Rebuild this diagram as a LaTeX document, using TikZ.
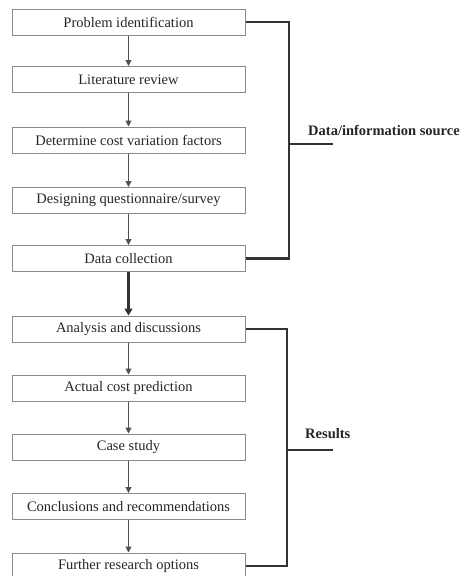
\documentclass[tikz,border=0pt]{standalone}
\usepackage{fontspec}
\setmainfont{Liberation Serif}
\usetikzlibrary{arrows.meta}
\definecolor{boxgray}{HTML}{8A8A8A}
\definecolor{txt}{HTML}{262626}
\definecolor{brk}{HTML}{333333}
\definecolor{arr}{HTML}{505050}
\tikzset{
  stepbox/.style={draw=boxgray, line width=1pt, fill=white, minimum width=233pt, minimum height=26pt,
    inner sep=0pt, text=txt, font=\fontsize{14.5}{16}\selectfont},
  flow/.style={draw=arr, line width=1pt, -{Triangle[length=6pt,width=6pt]}},
  bigflow/.style={draw=brk, line width=2.6pt, -{Triangle[length=7pt,width=8pt]}},
  bracket/.style={draw=brk, line width=2.6pt, line join=miter, line cap=butt},
  lbl/.style={text=txt, font=\fontsize{14.5}{16}\selectfont\bfseries, inner sep=0pt, anchor=west}
}
\begin{document}
\begin{tikzpicture}[x=1pt,y=-1pt]
\useasboundingbox (0,0) rectangle (464,576);
\node[stepbox] (b1) at (128.5,22) {Problem identification};
\node[stepbox] (b2) at (128.5,79.5) {Literature review};
\node[stepbox] (b3) at (128.5,140) {Determine cost variation factors};
\node[stepbox] (b4) at (128.5,200.5) {Designing questionnaire/survey};
\node[stepbox] (b5) at (128.5,258.5) {Data collection};
\node[stepbox] (b6) at (128.5,329) {Analysis and discussions};
\node[stepbox] (b7) at (128.5,388) {Actual cost prediction};
\node[stepbox] (b8) at (128.5,447) {Case study};
\node[stepbox] (b9) at (128.5,506.5) {Conclusions and recommendations};
\node[stepbox] (b10) at (128.5,566) {Further research options};
\draw[flow] (b1) -- (b2);
\draw[flow] (b2) -- (b3);
\draw[flow] (b3) -- (b4);
\draw[flow] (b4) -- (b5);
\draw[bigflow] (b5) -- (b6);
\draw[flow] (b6) -- (b7);
\draw[flow] (b7) -- (b8);
\draw[flow] (b8) -- (b9);
\draw[flow] (b9) -- (b10);
\coordinate (j1) at (289,144);
\coordinate (t1) at (333,144);
\coordinate (j2) at (287,450);
\coordinate (t2) at (333,450);
\draw[bracket] (b1.east) -| (j1) |- (b5.east);
\draw[bracket] (j1) -- (t1);
\draw[bracket] (b6.east) -| (j2) |- (b10.east);
\draw[bracket] (j2) -- (t2);
\node[lbl] (l1) at (308,130.5) {Data/information source};
\node[lbl] (l2) at (305,434) {Results};
\end{tikzpicture}
\end{document}
